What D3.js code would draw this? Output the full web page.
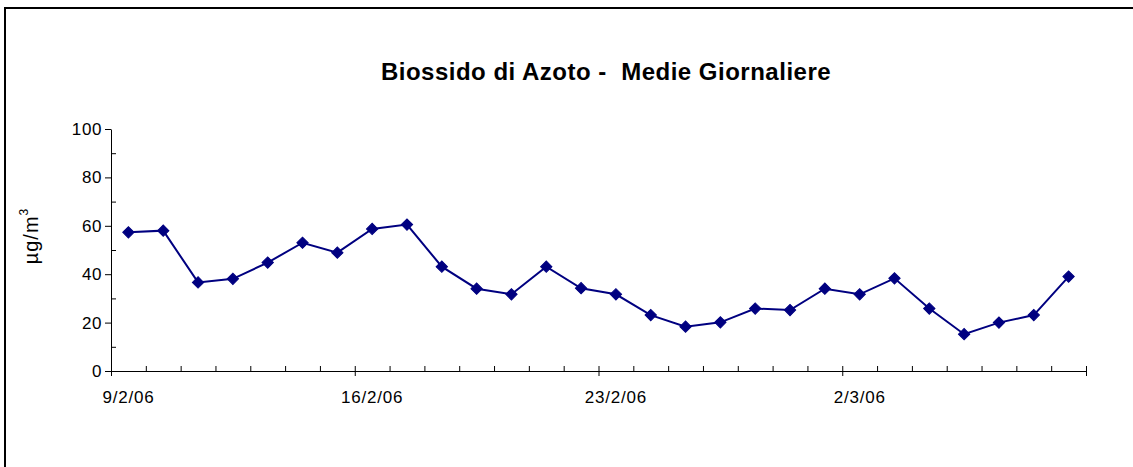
<!DOCTYPE html>
<html>
<head>
<meta charset="utf-8">
<script src="https://cdn.jsdelivr.net/npm/d3@7"></script>
<style>
  body { margin: 0; background: #fff; }
  svg { display: block; font-family: "Liberation Sans", Arial, sans-serif; }
</style>
</head>
<body>
<div class="visContainer"></div>
<script>
// Chart data.
const days = ['9/2/06', '10/2/06', '11/2/06', '12/2/06', '13/2/06', '14/2/06', '15/2/06',
              '16/2/06', '17/2/06', '18/2/06', '19/2/06', '20/2/06', '21/2/06', '22/2/06',
              '23/2/06', '24/2/06', '25/2/06', '26/2/06', '27/2/06', '28/2/06', '1/3/06',
              '2/3/06', '3/3/06', '4/3/06', '5/3/06', '6/3/06', '7/3/06', '8/3/06'];
const no2 = [57.3, 58.0, 36.6, 38.1, 44.8, 53.0, 48.9, 58.7, 60.5, 43.1, 34.0, 31.7, 43.1, 34.2,
             31.7, 23.1, 18.3, 20.1, 25.8, 25.2, 34.0, 31.7, 38.3, 25.8, 15.2, 20.0, 23.1, 39.0];
const dayLabels = ['9/2/06', '16/2/06', '23/2/06', '2/3/06'];
const yMajor = [0, 20, 40, 60, 80, 100];
const yMinor = [10, 30, 50, 70, 90];
const weekBounds = [0, 7, 14, 21, 28];

// SVG constants.
const width = 1133;
const height = 467;
const plotLeft = 111, plotRight = 1086, plotTop = 129, plotBottom = 371;

const svg = d3.select('.visContainer')
              .append('svg')
              .attr('width', width)
              .attr('height', height);

// Outer frame.
svg.append('rect')
   .attr('x', 5)
   .attr('y', 8)
   .attr('width', 1140)
   .attr('height', 470)
   .attr('fill', 'none')
   .attr('stroke', '#000')
   .attr('stroke-width', 2);

// Scales.
const xBand = d3.scaleBand()
                .domain(days)
                .range([plotLeft, plotRight]);
const xBound = d3.scaleLinear()
                 .domain([0, days.length])
                 .range([plotLeft, plotRight]);
const yScale = d3.scaleLinear()
                 .domain([0, 100])
                 .range([plotBottom, plotTop]);

// Title.
svg.append('text')
   .attr('x', 606)
   .attr('y', 80)
   .attr('text-anchor', 'middle')
   .attr('font-size', '24px')
   .attr('font-weight', 'bold')
   .attr('letter-spacing', '0.5px')
   .style('white-space', 'pre')
   .text('Biossido di Azoto -  Medie Giornaliere');

// Y axis.
const yAxis = svg.append('g')
   .attr('transform', 'translate(' + plotLeft + ',0)')
   .call(d3.axisLeft(yScale).tickValues(yMajor).tickSizeInner(6).tickSizeOuter(0).tickPadding(3));
yAxis.selectAll('text').attr('font-size', '17px').attr('letter-spacing', '0.6px').attr('fill', '#000');

svg.append('g')
   .attr('transform', 'translate(' + plotLeft + ',0)')
   .call(d3.axisLeft(yScale).tickValues(yMinor).tickSize(-5).tickFormat(''))
   .call(g => g.select('.domain').remove());

// X axis: minor ticks inside, weekly ticks outside.
svg.append('g')
   .attr('transform', 'translate(0,' + plotBottom + ')')
   .call(d3.axisBottom(xBound).tickValues(d3.range(0, days.length + 1)).tickSize(-5).tickSizeOuter(0).tickFormat(''))
   .call(g => g.select('.domain').attr('d', 'M' + plotLeft + ',0.5H' + plotRight));

svg.append('g')
   .attr('transform', 'translate(0,' + plotBottom + ')')
   .call(d3.axisBottom(xBound).tickValues(weekBounds).tickSize(5).tickFormat(''))
   .call(g => g.select('.domain').remove());

const xAxis = svg.append('g')
   .attr('transform', 'translate(0,' + plotBottom + ')')
   .call(d3.axisBottom(xBand).tickValues(dayLabels).tickSize(0).tickPadding(20));
xAxis.select('.domain').remove();
xAxis.selectAll('text').attr('font-size', '17px').attr('letter-spacing', '0.8px').attr('fill', '#000');

svg.selectAll('.tick line').attr('stroke', '#000');
svg.selectAll('.domain').attr('stroke', '#000');

// Y label.
const yLabel = svg.append('text')
   .attr('transform', 'translate(38,236) rotate(-90)')
   .attr('text-anchor', 'middle')
   .attr('font-size', '20px')
   .attr('letter-spacing', '1px');
yLabel.append('tspan').text('µg/m');
yLabel.append('tspan').attr('font-size', '12px').attr('dy', '-10').text('3');

// Series line.
const line = d3.line()
               .x((d, i) => xBand(days[i]) + xBand.bandwidth() / 2)
               .y((d) => yScale(d));

svg.append('path')
   .datum(no2)
   .attr('d', line)
   .attr('fill', 'none')
   .attr('stroke', '#000080')
   .attr('stroke-width', 2);

// Diamond markers.
svg.selectAll('.marker')
   .data(no2)
   .enter()
   .append('path')
   .attr('class', 'marker')
   .attr('d', d3.symbol().type(d3.symbolSquare).size(64))
   .attr('transform', (d, i) => 'translate(' + (xBand(days[i]) + xBand.bandwidth() / 2) + ',' + yScale(d) + ') rotate(45)')
   .attr('fill', '#000080')
   .attr('stroke', '#000080')
   .attr('stroke-width', 1);
</script>
</body>
</html>
